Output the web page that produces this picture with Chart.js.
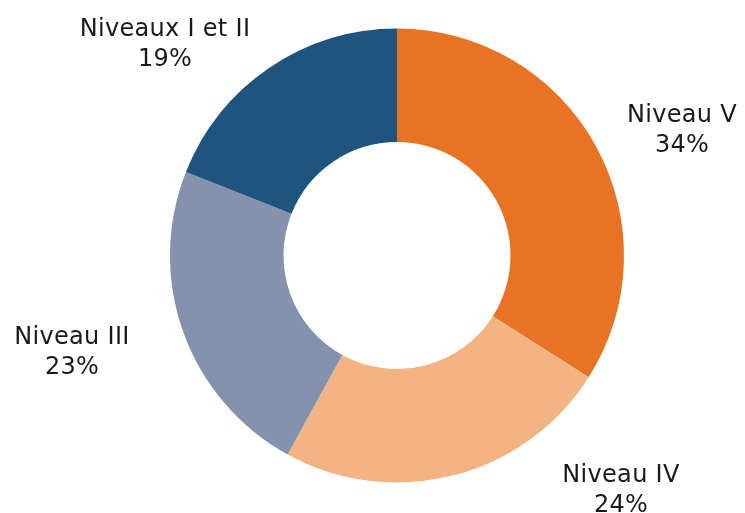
<!DOCTYPE html>
<html>
<head>
<meta charset="utf-8">
<script src="https://cdn.jsdelivr.net/npm/chart.js@4/dist/chart.umd.min.js"></script>
<style>
  html, body { margin: 0; padding: 0; background: #fff; }
  #wrap { width: 745px; height: 513px; position: relative; }
</style>
</head>
<body>
<div id="wrap"><canvas id="chart"></canvas></div>
<script>
const labels = ['Niveau V', 'Niveau IV', 'Niveau III', 'Niveaux I et II'];
const values = [34, 24, 23, 19];
const colors = ['#e87325', '#f4b383', '#8592ae', '#1f547e'];

// where each label sits (text baseline of first line, centre x)
const labelAnchors = [
    { x: 682, y: 122 },
    { x: 621, y: 482 },
    { x: 72, y: 344 },
    { x: 165, y: 36 }
];

const outsideLabels = {
    id: 'outsideLabels',
    afterDraw(chart) {
        const ctx = chart.ctx;
        const data = chart.data.datasets[0].data;
        ctx.save();
        ctx.fillStyle = '#1a1a1a';
        ctx.font = '24px "DejaVu Sans"';
        ctx.letterSpacing = '0.3px';
        ctx.textAlign = 'center';
        ctx.textBaseline = 'alphabetic';
        chart.getDatasetMeta(0).data.forEach((arc, i) => {
            const a = labelAnchors[i];
            ctx.fillText(chart.data.labels[i], a.x, a.y);
            ctx.fillText(data[i] + '%', a.x, a.y + 30);
        });
        ctx.restore();
    }
};

new Chart(document.getElementById('chart'), {
    type: 'doughnut',
    data: {
        labels: labels,
        datasets: [{
            data: values,
            backgroundColor: colors,
            borderWidth: 0
        }]
    },
    options: {
        responsive: true,
        maintainAspectRatio: false,
        animation: false,
        cutout: '50%',
        layout: { padding: { top: 28, bottom: 30, left: 170, right: 121 } },
        plugins: {
            legend: { display: false },
            tooltip: { enabled: false }
        }
    },
    plugins: [outsideLabels]
});
</script>
</body>
</html>
